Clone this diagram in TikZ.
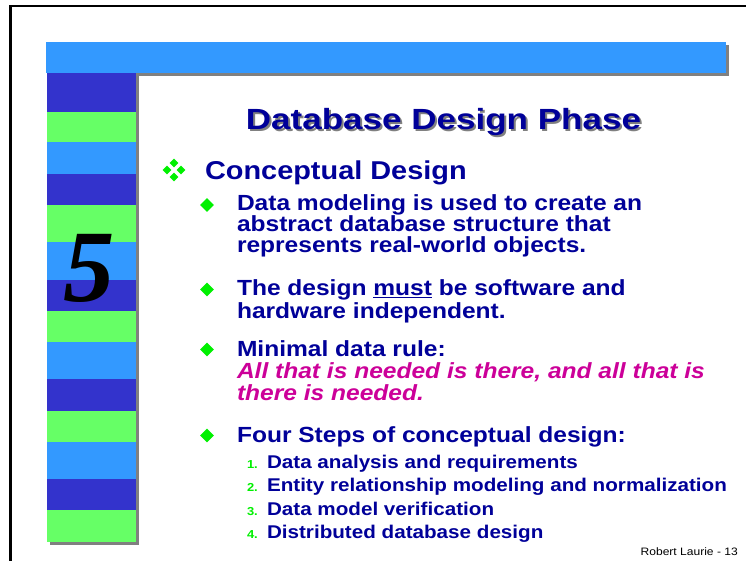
\documentclass[tikz,border=0pt]{standalone}
\usepackage{fontspec}
\setmainfont{Liberation Sans}[FakeStretch=1.12]
\newfontfamily\titlefont{Liberation Sans}[FakeStretch=1.2]
\newfontfamily\fivefont{Liberation Serif}
\usetikzlibrary{shapes.geometric}
\definecolor{navy}{HTML}{000099}
\definecolor{barblue}{HTML}{3399FF}
\definecolor{darkstripe}{HTML}{3333CC}
\definecolor{greenstripe}{HTML}{66FF66}
\definecolor{shadowgray}{HTML}{808080}
\definecolor{bul}{HTML}{00F000}
\definecolor{magentatext}{HTML}{CC0099}
\begin{document}
\begin{tikzpicture}[x=1bp,y=-1bp,
  line/.style={anchor=base west, inner sep=0pt, outer sep=0pt, text=navy,
    font=\fontsize{22}{24}\selectfont\bfseries},
  headline/.style={line, font=\fontsize{25.9}{28}\selectfont\bfseries},
  stepline/.style={line, font=\fontsize{18.5}{20}\selectfont\bfseries},
  stepnum/.style={line, text=bul, font=\fontsize{11.6}{13}\selectfont\bfseries},
  quote/.style={line, text=magentatext, font=\fontsize{22}{24}\selectfont\bfseries\itshape},
  bulletmark/.style={diamond, fill=bul, draw=none, inner sep=0pt, minimum width=14bp, minimum height=14bp},
  smallmark/.style={diamond, fill=bul, draw=none, inner sep=0pt, minimum width=9bp, minimum height=9bp},
  titletext/.style={anchor=base, inner sep=0pt, font=\titlefont\fontsize{29.3}{31}\selectfont\bfseries}]
\useasboundingbox (0,0) rectangle (746,561);
\fill[white] (0,0) rectangle (746,561);
% frame
\draw[black, line width=2.2bp] (10.5,580) -- (10.5,6.3) -- (760,6.3);
% top bar with shadow
\fill[shadowgray] (49,45) rectangle (729,76);
\fill[barblue] (46,42) rectangle (726,73);
% stripe column with shadow
\fill[shadowgray] (49.5,76) rectangle (138.7,544.5);
\foreach \a/\b/\c in {73/112/darkstripe, 112/142/greenstripe, 142/174/barblue,
  174/205/darkstripe, 205/242/greenstripe, 242/280/barblue, 280/311/darkstripe,
  311/342/greenstripe, 342/379/barblue, 379/411/darkstripe, 411/442/greenstripe,
  442/479/barblue, 479/510/darkstripe, 510/542/greenstripe}
  \fill[\c] (47,\a) rectangle (136,\b);
\node[anchor=base, inner sep=0pt, font=\fontsize{103}{103}\fivefont\bfseries\itshape] (five) at (89,301) {5};
% title
\node[titletext, text=shadowgray] (titleshadow) at (445.5,131.5) {Database Design Phase};
\node[titletext, text=navy] (title) at (443.5,129.5) {Database Design Phase};
% level-1 bullet
\node[smallmark] (m1) at (174,163) {};
\node[smallmark] (m2) at (174,177) {};
\node[smallmark] (m3) at (167,170) {};
\node[smallmark] (m4) at (181,170) {};
\node[headline] (conc) at (205,179.5) {Conceptual Design};
% level-2 bullets
\node[bulletmark] (b1) at (207,205) {};
\node[line] (l1) at (237,211) {Data modeling is used to create an};
\node[line] (l2) at (237,232) {abstract database structure that};
\node[line] (l3) at (237,253) {represents real-world objects.};
\node[bulletmark] (b2) at (207,289.5) {};
\node[line] (l4) at (237,296) {The design \underline{must} be software and};
\node[line] (l5) at (237,318) {hardware independent.};
\node[bulletmark] (b3) at (207,349.5) {};
\node[line] (l6) at (237,356) {Minimal data rule:};
\node[quote] (q1) at (237,378) {All that is needed is there, and all that is};
\node[quote] (q2) at (237,400) {there is needed.};
\node[bulletmark] (b4) at (207,435.5) {};
\node[line] (l7) at (237,442) {Four Steps of conceptual design:};
% numbered steps
\node[stepnum] (n1) at (247,468) {1.};
\node[stepline] (s1) at (267,468) {Data analysis and requirements};
\node[stepnum] (n2) at (247,491.5) {2.};
\node[stepline] (s2) at (267,491.5) {Entity relationship modeling and normalization};
\node[stepnum] (n3) at (247,515) {3.};
\node[stepline] (s3) at (267,515) {Data model verification};
\node[stepnum] (n4) at (247,538.5) {4.};
\node[stepline] (s4) at (267,538.5) {Distributed database design};
% footer
\node[anchor=base east, inner sep=0pt, font=\fontsize{10.8}{12}\selectfont] (foot) at (738,555) {Robert Laurie - 13};
\end{tikzpicture}
\end{document}
